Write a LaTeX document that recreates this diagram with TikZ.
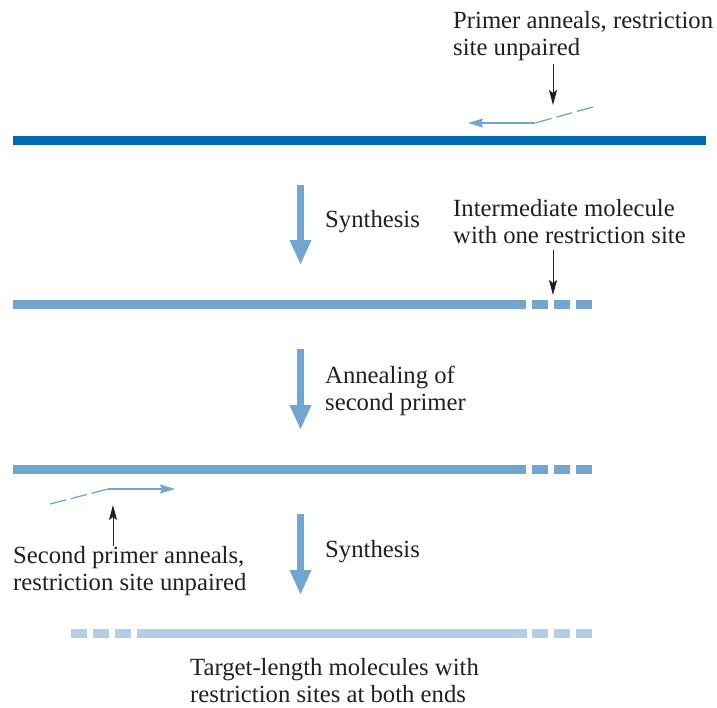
\documentclass[tikz,border=0pt]{standalone}
\usepackage{fontspec}
\setmainfont{Liberation Serif}
\usetikzlibrary{arrows.meta,positioning}
\definecolor{dnadark}{RGB}{0,107,176}
\definecolor{dnamid}{RGB}{114,166,208}
\definecolor{dnalight}{RGB}{180,206,229}
\definecolor{ink}{RGB}{35,31,32}

\begin{document}
\begin{tikzpicture}[x=1pt,y=-1pt,font=\fontsize{24.7}{27}\selectfont]
  \tikzstyle{every node}=[inner sep=0pt,text=ink]
  \tikzstyle{note}=[align=left,anchor=base west]
  \tikzstyle{strand}=[line width=9pt]
  \tikzstyle{site}=[line width=9pt,dash pattern=on 16pt off 6pt]
  \tikzstyle{primer}=[dnamid,line width=1.3pt]
  \tikzstyle{unpaired}=[primer,dash pattern=on 16.5pt off 5pt]
  \tikzstyle{pointer}=[-{Stealth[length=15pt,width=8pt,inset=3pt]},ink,line width=1pt]
  \tikzstyle{stage}=[-{Triangle[length=25pt,width=20pt]},dnamid,line width=7pt]
  \useasboundingbox (0,0) rectangle (717,707);

  % strands
  \draw[strand,dnadark] (13,140.5) -- (706,140.5);
  \draw[strand,dnamid] (13,304.5) -- (526,304.5);
  \draw[site,dnamid] (532,304.5) -- (592,304.5);
  \draw[strand,dnamid] (13,469.5) -- (526,469.5);
  \draw[site,dnamid] (532,469.5) -- (592,469.5);
  \draw[site,dnalight] (71,633.5) -- (131,633.5);
  \draw[strand,dnalight] (137,633.5) -- (527,633.5);
  \draw[site,dnalight] (532,633.5) -- (592,633.5);

  % primers
  \coordinate (top kink) at (535,123);
  \coordinate (top end) at (593,107);
  \coordinate (top tip) at (468,123);
  \coordinate (low kink) at (108,489);
  \coordinate (low end) at (50,504);
  \coordinate (low tip) at (175,489);
  \draw[unpaired] (top end) -- (top kink);
  \draw[primer,-{Stealth[length=15pt,width=9pt,inset=2pt]}] (top kink) -- (top tip);
  \draw[unpaired] (low end) -- (low kink);
  \draw[primer,-{Stealth[length=15pt,width=9pt,inset=2pt]}] (low kink) -- (low tip);

  % labels (base = last line)
  \node[note] (anneal1) at (453,55) {Primer anneals, restriction\\site unpaired};
  \node[note] (inter) at (453,243) {Intermediate molecule\\with one restriction site};
  \node[note] (anneal2) at (13,590) {Second primer anneals,\\restriction site unpaired};
  \node[note] (synth1) at (325,227) {Synthesis};
  \node[note] (second) at (325,410) {Annealing of\\second primer};
  \node[note] (synth2) at (325,557) {Synthesis};
  \node[note] (target) at (190,702) {Target-length molecules with\\restriction sites at both ends};

  % pointers
  \coordinate (p1 a) at (553,64);
  \coordinate (p1 b) at (553,105);
  \coordinate (p2 a) at (553,250);
  \coordinate (p2 b) at (553,295);
  \coordinate (p3 a) at (113,546);
  \coordinate (p3 b) at (113,505);
  \path[pointer]
  (p1 a) edge (p1 b)
  (p2 a) edge (p2 b)
  (p3 a) edge (p3 b);

  % steps
  \coordinate (s1 a) at (300.5,185);
  \coordinate (s1 b) at (300.5,265);
  \coordinate (s2 a) at (300.5,349);
  \coordinate (s2 b) at (300.5,430);
  \coordinate (s3 a) at (300.5,514);
  \coordinate (s3 b) at (300.5,595);
  \path[stage]
  (s1 a) edge (s1 b)
  (s2 a) edge (s2 b)
  (s3 a) edge (s3 b);
\end{tikzpicture}
\end{document}
